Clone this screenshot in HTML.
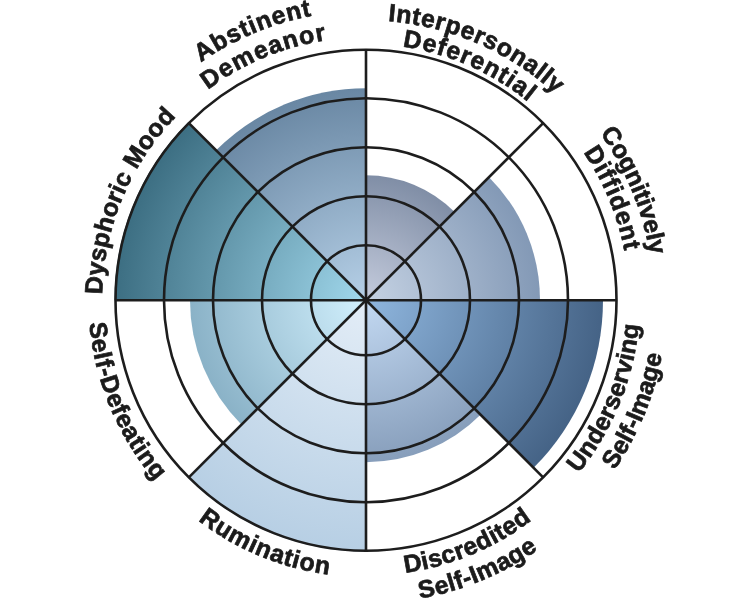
<!DOCTYPE html>
<html><head><meta charset="utf-8"><style>
html,body{margin:0;padding:0;background:#fff;}
svg{display:block;will-change:transform;}
text{font-family:"Liberation Sans",sans-serif;font-weight:bold;font-size:24.8px;fill:#1b1b1b;stroke:#1b1b1b;stroke-width:0.7px;text-anchor:middle;}
</style></head><body>
<svg width="732" height="600" viewBox="0 0 732 600">
<defs>
<radialGradient id="gID" gradientUnits="userSpaceOnUse" cx="366" cy="300.2" r="125"><stop offset="0" stop-color="#c5ccdd"/><stop offset="1" stop-color="#808ea6"/></radialGradient>
<radialGradient id="gCD" gradientUnits="userSpaceOnUse" cx="366" cy="300.2" r="174"><stop offset="0" stop-color="#c5d2e3"/><stop offset="1" stop-color="#8399b6"/></radialGradient>
<radialGradient id="gUS" gradientUnits="userSpaceOnUse" cx="366" cy="300.2" r="237"><stop offset="0" stop-color="#8fb6de"/><stop offset="1" stop-color="#456386"/></radialGradient>
<radialGradient id="gDS" gradientUnits="userSpaceOnUse" cx="366" cy="300.2" r="162"><stop offset="0" stop-color="#c3d9f2"/><stop offset="1" stop-color="#879ebb"/></radialGradient>
<radialGradient id="gRU" gradientUnits="userSpaceOnUse" cx="366" cy="300.2" r="251.5"><stop offset="0" stop-color="#e3edf7"/><stop offset="1" stop-color="#b7cfe4"/></radialGradient>
<radialGradient id="gSD" gradientUnits="userSpaceOnUse" cx="366" cy="300.2" r="176"><stop offset="0" stop-color="#d2f0fd"/><stop offset="1" stop-color="#8ab2c7"/></radialGradient>
<radialGradient id="gDM" gradientUnits="userSpaceOnUse" cx="366" cy="300.2" r="251.5"><stop offset="0" stop-color="#a1d8ec"/><stop offset="1" stop-color="#3c6e82"/></radialGradient>
<radialGradient id="gAD" gradientUnits="userSpaceOnUse" cx="366" cy="300.2" r="212"><stop offset="0" stop-color="#b6d0e7"/><stop offset="1" stop-color="#6987a3"/></radialGradient>
<path id="t0" d="M99.11 412.37A289.5 289.5 0 0 1 632.89 188.03"/>
<path id="t1" d="M122.35 402.61A264.3 264.3 0 0 1 609.65 197.79"/>
<path id="t2" d="M108.67 188.07A280.7 280.7 0 0 1 623.33 412.33"/>
<path id="t3" d="M130.65 196.96A257 257 0 0 1 601.35 403.44"/>
<path id="t4" d="M256.5 33.29A288.5 288.5 0 0 1 475.5 567.11"/>
<path id="t5" d="M265.22 57.27A263 263 0 0 1 466.78 543.13"/>
<path id="t6" d="M262.67 553.97A274 274 0 0 0 469.33 46.43"/>
<path id="t7" d="M250.89 579.4A302 302 0 0 0 481.11 21"/>
<path id="t8" d="M111.62 406A275.5 275.5 0 0 0 620.38 194.4"/>
<path id="t9" d="M84.7 416.25A304.3 304.3 0 0 0 647.3 184.15"/>
<path id="t10" d="M110.16 194A277 277 0 0 0 621.84 406.4"/>
<path id="t11" d="M258.97 44.17A277.5 277.5 0 0 0 473.03 556.23"/>
<path id="t12" d="M264.38 543.86A264 264 0 0 1 467.62 56.54"/>
</defs>
<path d="M366 300.2L366 175.2A125 125 0 0 1 454.39 211.81Z" fill="url(#gID)"/>
<path d="M366 300.2L489.04 177.16A174 174 0 0 1 540 300.2Z" fill="url(#gCD)"/>
<path d="M366 300.2L603 300.2A237 237 0 0 1 533.58 467.78Z" fill="url(#gUS)"/>
<path d="M366 300.2L480.55 414.75A162 162 0 0 1 366 462.2Z" fill="url(#gDS)"/>
<path d="M366 300.2L366 551.7A251.5 251.5 0 0 1 188.16 478.04Z" fill="url(#gRU)"/>
<path d="M366 300.2L241.55 424.65A176 176 0 0 1 190 300.2Z" fill="url(#gSD)"/>
<path d="M366 300.2L114.5 300.2A251.5 251.5 0 0 1 188.16 122.36Z" fill="url(#gDM)"/>
<path d="M366 300.2L216.09 150.29A212 212 0 0 1 366 88.2Z" fill="url(#gAD)"/>
<g fill="none" stroke="#1d1d1d" stroke-width="2.6">
<circle cx="366" cy="300.2" r="55"/>
<circle cx="366" cy="300.2" r="104"/>
<circle cx="366" cy="300.2" r="153"/>
<circle cx="366" cy="300.2" r="202"/>
<circle cx="366" cy="300.2" r="250.5"/>
<line x1="366" y1="49.7" x2="366" y2="550.7"/>
<line x1="543.13" y1="123.07" x2="188.87" y2="477.33"/>
<line x1="616.5" y1="300.2" x2="115.5" y2="300.2"/>
<line x1="543.13" y1="477.33" x2="188.87" y2="123.07"/>
</g>
<text><textPath href="#t0" startOffset="50%" textLength="121.16" lengthAdjust="spacing">Abstinent</textPath></text>
<text><textPath href="#t1" startOffset="50%" textLength="129.8" lengthAdjust="spacing">Demeanor</textPath></text>
<text><textPath href="#t2" startOffset="50%" textLength="186.03" lengthAdjust="spacing">Interpersonally</textPath></text>
<text><textPath href="#t3" startOffset="50%" textLength="138.59" lengthAdjust="spacing">Deferential</textPath></text>
<text><textPath href="#t4" startOffset="50%" textLength="132.94" lengthAdjust="spacing">Cognitively</textPath></text>
<text><textPath href="#t5" startOffset="50%" textLength="107.5" lengthAdjust="spacing">Diffident</textPath></text>
<text><textPath href="#t6" startOffset="50%" textLength="163.03" lengthAdjust="spacing">Underserving</textPath></text>
<text><textPath href="#t7" startOffset="50%" textLength="126.11" lengthAdjust="spacing">Self-Image</textPath></text>
<text><textPath href="#t8" startOffset="50%" textLength="138.82" lengthAdjust="spacing">Discredited</textPath></text>
<text><textPath href="#t9" startOffset="50%" textLength="128.6" lengthAdjust="spacing">Self-Image</textPath></text>
<text><textPath href="#t10" startOffset="50%" textLength="143.25" lengthAdjust="spacing">Rumination</textPath></text>
<text><textPath href="#t11" startOffset="50%" textLength="174.18" lengthAdjust="spacing">Self-Defeating</textPath></text>
<text><textPath href="#t12" startOffset="50%" textLength="197.26" lengthAdjust="spacing">Dysphoric Mood</textPath></text>
</svg>
</body></html>
